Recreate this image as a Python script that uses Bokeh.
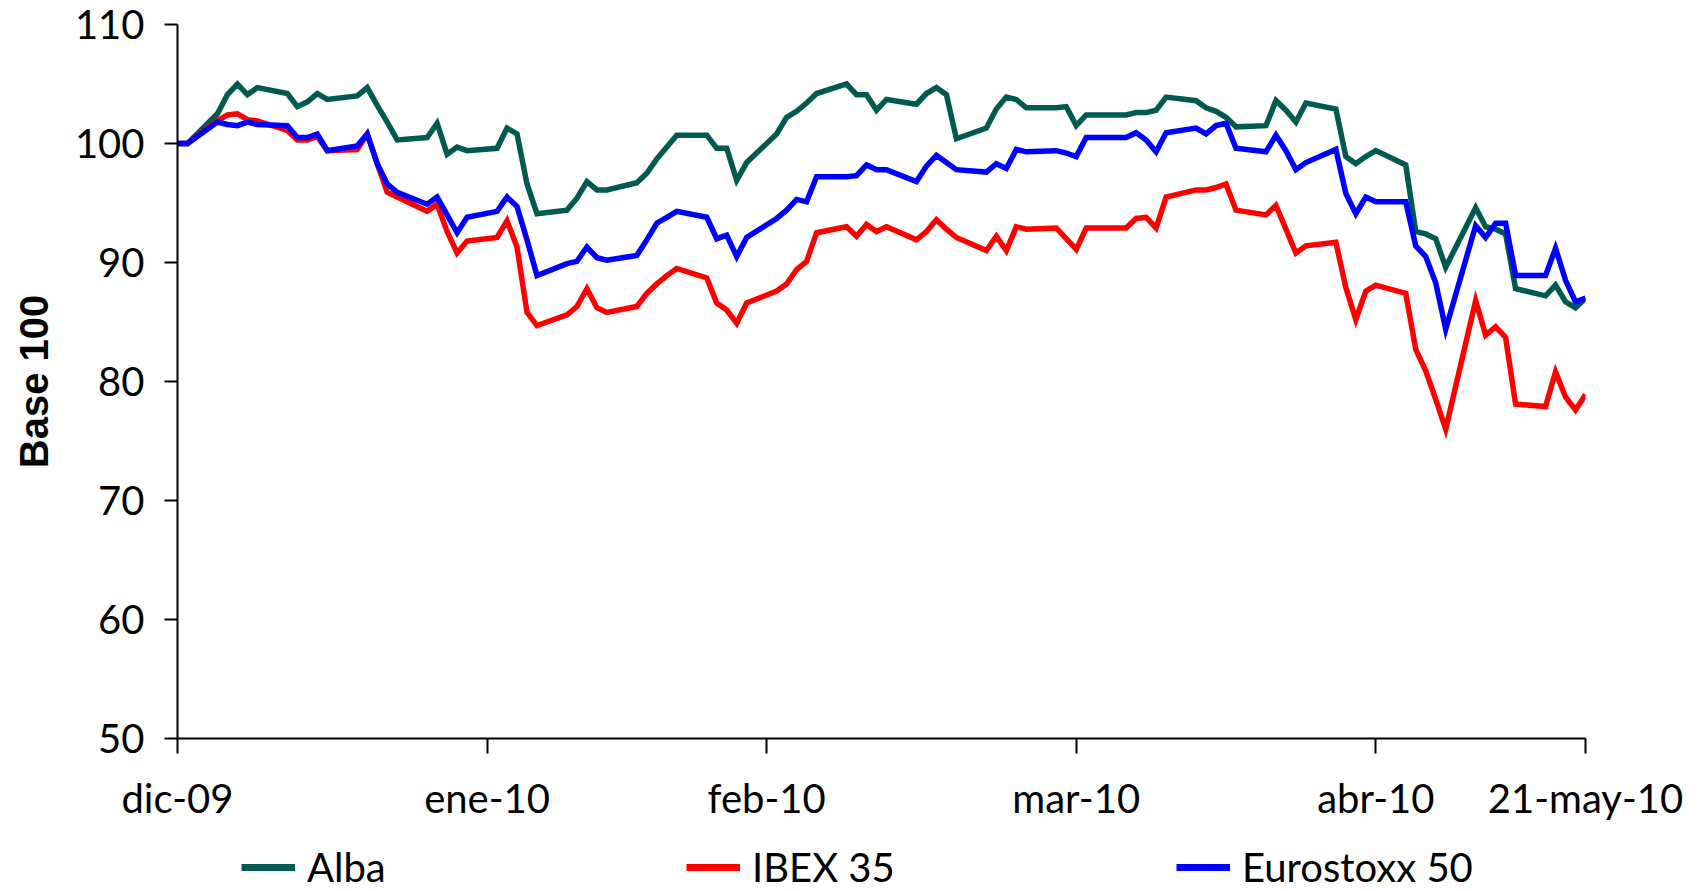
import pandas as pd
from bokeh.plotting import figure
from bokeh.layouts import column
from bokeh.models import Range1d, FixedTicker, Legend, LegendItem
from bokeh.embed import file_html
from bokeh.resources import INLINE

# Trading days from the base date (31-dic-2009) to 21-may-2010
dates = pd.bdate_range("2009-12-31", "2010-05-21")

alba = [100.0, 100.0,
        102.5, 104.1, 105.0, 104.1, 104.7,
        104.2, 103.1, 103.5, 104.2, 103.7,
        104.0, 104.7, 103.2, 101.8, 100.3,
        100.5, 101.7, 99.1, 99.7, 99.4,
        99.6, 101.3, 100.8, 96.6, 94.1,
        94.4, 95.4, 96.8, 96.1, 96.1,
        96.7, 97.5, 98.7, 99.7, 100.7,
        100.7, 99.6, 99.6, 96.9, 98.4,
        100.8, 102.2, 102.7, 103.4, 104.2,
        105.0, 104.1, 104.1, 102.8, 103.7,
        103.3, 104.2, 104.7, 104.1, 100.4,
        101.3, 102.9, 103.9, 103.7, 103.0,
        103.0, 103.1, 101.5, 102.4, 102.4,
        102.4, 102.6, 102.6, 102.8, 103.9,
        103.6, 103.0, 102.7, 102.2, 101.4,
        101.5, 103.6, 102.8, 101.8, 103.4,
        102.9, 98.9, 98.3, 98.9, 99.4,
        98.2, 92.6, 92.4, 92.0, 89.6,
        94.6, 93.0, 92.8, 92.4, 87.8,
        87.2, 88.1, 86.7, 86.2, 87.0]

ibex35 = [100.0, 100.0,
          101.9, 102.4, 102.5, 102.0, 101.9,
          101.1, 100.3, 100.3, 100.6, 99.4,
          99.5, 100.8, 98.3, 95.9, 95.5,
          94.3, 94.9, 92.6, 90.8, 91.8,
          92.1, 93.5, 91.3, 85.8, 84.7,
          85.6, 86.3, 87.8, 86.2, 85.8,
          86.3, 87.4, 88.2, 88.9, 89.5,
          88.7, 86.6, 86.0, 84.9, 86.6,
          87.6, 88.2, 89.4, 90.1, 92.5,
          93.0, 92.2, 93.2, 92.6, 93.0,
          91.9, 92.6, 93.6, 92.8, 92.1,
          91.0, 92.2, 91.0, 93.0, 92.8,
          92.9, 92.0, 91.1, 92.9, 92.9,
          92.9, 93.7, 93.8, 92.9, 95.5,
          96.1, 96.1, 96.3, 96.6, 94.4,
          94.0, 94.8, 92.8, 90.8, 91.4,
          91.7, 87.9, 85.2, 87.6, 88.1,
          87.4, 82.7, 80.9, 78.5, 76.0,
          86.8, 83.9, 84.6, 83.7, 78.1,
          77.9, 80.8, 78.7, 77.6, 78.9]

eurostoxx50 = [100.0, 100.0,
               101.8, 101.6, 101.5, 101.8, 101.6,
               101.5, 100.5, 100.5, 100.8, 99.4,
               99.8, 100.8, 98.3, 96.6, 95.9,
               94.9, 95.5, 94.0, 92.5, 93.8,
               94.3, 95.5, 94.7, 91.9, 88.9,
               89.9, 90.1, 91.3, 90.4, 90.2,
               90.6, 91.9, 93.3, 93.8, 94.3,
               93.8, 92.0, 92.3, 90.5, 92.1,
               93.7, 94.4, 95.3, 95.1, 97.2,
               97.2, 97.3, 98.2, 97.8, 97.8,
               96.8, 98.1, 99.0, 98.4, 97.8,
               97.6, 98.3, 97.9, 99.5, 99.3,
               99.4, 99.2, 98.9, 100.5, 100.5,
               100.5, 100.9, 100.3, 99.3, 100.9,
               101.3, 100.8, 101.5, 101.7, 99.6,
               99.3, 100.7, 99.4, 97.8, 98.4,
               99.5, 95.8, 94.1, 95.5, 95.1,
               95.1, 91.4, 90.5, 88.3, 84.4,
               93.1, 92.1, 93.3, 93.3, 88.9,
               88.9, 91.2, 88.5, 86.7, 87.0]

tick_dates = ["2009-12-31", "2010-01-31", "2010-02-28",
              "2010-03-31", "2010-04-30", "2010-05-21"]
tick_labels = ["dic-09", "ene-10", "feb-10", "mar-10", "abr-10", "21-may-10"]
y_ticks = [50, 60, 70, 80, 90, 100, 110]

series_names = ["Alba", "IBEX 35", "Eurostoxx 50"]
series_colors = ["#005A50", "#FF0000", "#0000FF"]
series_values = [alba, ibex35, eurostoxx50]

# x position = calendar days elapsed since the base date
start = pd.Timestamp(tick_dates[0])
days = [int((d - start).days) for d in dates]
tick_days = [int((pd.Timestamp(t) - start).days) for t in tick_dates]

FONT = "Lato"
W = 1700
H_MAIN, H_LEG = 825, 66
LEFT, RIGHT, TOP = 177, 115, 24
BOTTOM = H_MAIN - 738

p = figure(width=W, height=H_MAIN, output_backend="svg", toolbar_location=None,
           x_range=Range1d(tick_days[0], tick_days[-1]),
           y_range=Range1d(50, 110),
           min_border_left=LEFT, min_border_right=RIGHT,
           min_border_top=TOP, min_border_bottom=BOTTOM)
p.outline_line_color = None
p.background_fill_color = "white"
p.border_fill_color = "white"
p.xgrid.visible = False
p.ygrid.visible = False

for vals, col in zip(series_values, series_colors):
    p.line(days, vals, line_color=col, line_width=5.5, line_join="miter")

# axes
p.xaxis.ticker = FixedTicker(ticks=tick_days)
p.xaxis.major_label_overrides = {d: lab for d, lab in zip(tick_days, tick_labels)}
p.yaxis.ticker = FixedTicker(ticks=y_ticks)
for ax in (p.xaxis, p.yaxis):
    ax.axis_line_color = "black"
    ax.axis_line_width = 2
    ax.major_tick_line_color = "black"
    ax.major_tick_line_width = 2
    ax.major_tick_in = 0
    ax.minor_tick_line_color = None
    ax.major_label_text_font = FONT
    ax.major_label_text_font_size = "40px"
    ax.major_label_text_color = "black"
p.xaxis.major_tick_out = 15
p.xaxis.major_label_standoff = 20
p.yaxis.major_tick_out = 13
p.yaxis.major_label_standoff = 20

p.yaxis.axis_label = "Base 100"
p.yaxis.axis_label_text_font = "Liberation Sans"
p.yaxis.axis_label_text_font_style = "bold"
p.yaxis.axis_label_text_font_size = "40px"
p.yaxis.axis_label_text_color = "black"
p.yaxis.axis_label_standoff = 16

# legend strip under the chart; its frame lines up with the chart frame,
# and the series drawn here sit outside its y range so only the keys show
leg = figure(width=W, height=H_LEG, output_backend="svg", toolbar_location=None,
             x_range=Range1d(tick_days[0], tick_days[-1]), y_range=Range1d(0, 1),
             x_axis_location=None, y_axis_location=None, min_border=0)
leg.outline_line_color = None
leg.xgrid.visible = False
leg.ygrid.visible = False

legend_x = [64, 509, 999]
for name, vals, col, lx in zip(series_names, series_values, series_colors, legend_x):
    key = leg.line(days, vals, line_color=col, line_width=7)
    lg = Legend(items=[LegendItem(label=name, renderers=[key])],
                location=(lx, 0), orientation="horizontal",
                glyph_width=54, glyph_height=40, label_height=40,
                label_standoff=12, padding=0, margin=0, spacing=0,
                border_line_color=None, background_fill_alpha=0,
                label_text_font=FONT, label_text_font_size="40px",
                label_text_color="black")
    leg.add_layout(lg, "center")

layout = column(p, leg, spacing=0)
open("out.html", "w").write(file_html(layout, INLINE))
